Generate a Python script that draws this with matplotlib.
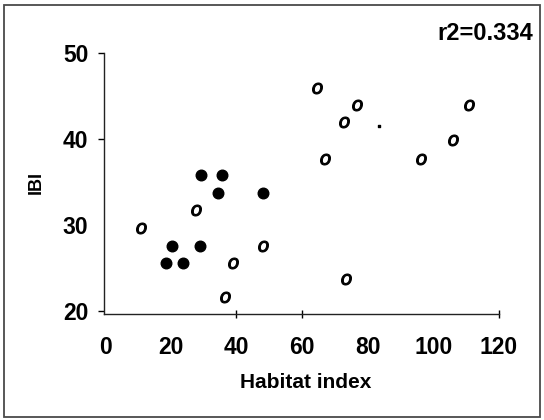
import matplotlib
matplotlib.use("Agg")
import matplotlib.pyplot as plt
from matplotlib.patches import Rectangle

plt.rcParams["font.family"] = ["Liberation Sans", "DejaVu Sans"]

# ── Data ─────────────────────────────────────────────────────────────────────
filled_x = [29.3, 35.6, 34.3, 48.0, 20.4, 28.8, 18.6, 23.8]
filled_y = [35.8, 35.8, 33.7, 33.7, 27.6, 27.6, 25.6, 25.6]

open_x = [64.7, 76.7, 72.7, 66.9, 110.8, 105.9, 96.1, 27.8, 10.9, 48.0, 39.0, 36.4, 73.5]
open_y = [45.9, 43.9, 41.9, 37.7, 43.9, 39.9, 37.7, 31.7, 29.6, 27.6, 25.6, 21.6, 23.7]

speck_x = [83.5]
speck_y = [41.5]

x_ticks = [0, 20, 40, 60, 80, 100, 120]
y_ticks = [20, 30, 40, 50]
x_tick_marks = [40, 60, 120]     # only these carry a visible tick
y_tick_marks = [20, 40, 50]
r2_text = "r2=0.334"

fig = plt.figure(figsize=(5.44, 4.2), dpi=100)
ax = fig.add_axes([103.5 / 544, 1 - 314 / 420, 395.5 / 544, (314 - 52.7) / 420])

ax.scatter(filled_x, filled_y, s=58, color="black", zorder=3)
ax.scatter(open_x, open_y, s=62, marker="$o$", color="black",
           edgecolors="black", linewidths=0.8, zorder=3)
ax.scatter(speck_x, speck_y, s=2, marker="s", color="black")

ax.set_xlim(-0.5, 120)
ax.set_ylim(19.65, 50)
for side in ("top", "right"):
    ax.spines[side].set_visible(False)
for side in ("left", "bottom"):
    ax.spines[side].set_linewidth(1.0)
    ax.spines[side].set_color("#222222")

ax.set_xticks(x_ticks)
ax.set_xticklabels([str(v) for v in x_ticks], fontsize=16.5, fontweight="bold")
ax.set_yticks(y_ticks)
ax.set_yticklabels([str(v) for v in y_ticks], fontsize=16.5, fontweight="bold")
ax.tick_params(axis="x", direction="inout", length=6, width=1, pad=13)
ax.tick_params(axis="y", direction="out", length=4, width=1, pad=7)
for v, t in zip(x_ticks, ax.xaxis.get_major_ticks()):
    t.tick1line.set_visible(v in x_tick_marks)
for v, t in zip(y_ticks, ax.yaxis.get_major_ticks()):
    t.tick1line.set_visible(v in y_tick_marks)

fig.text(305.5 / 544, 1 - 383 / 420, "Habitat index", fontsize=15,
         fontweight="bold", ha="center", va="center")
fig.text(36.5 / 544, 1 - 183 / 420, "IBI", fontsize=13, fontweight="bold",
         rotation=90, ha="center", va="center")
fig.text(533 / 544, 1 - 33 / 420, r2_text, fontsize=17, fontweight="bold",
         ha="right", va="center")

# outer frame round the whole picture
fig.patches.append(Rectangle((4 / 544, 3.5 / 420), 536 / 544, 412 / 420,
                             transform=fig.transFigure, fill=False,
                             edgecolor="#4a4a4a", linewidth=1.3))

fig.savefig("out.png", dpi=100)
